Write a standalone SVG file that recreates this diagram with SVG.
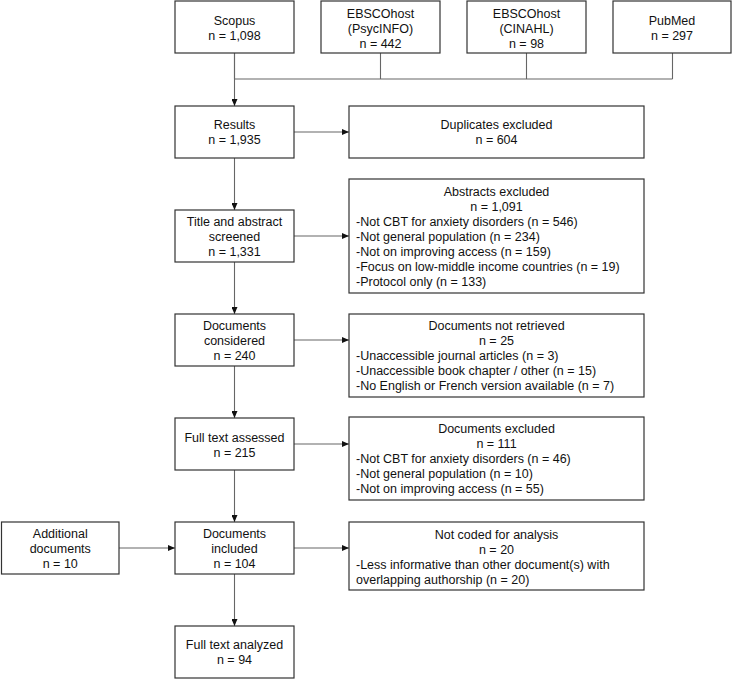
<svg xmlns="http://www.w3.org/2000/svg" width="733" height="680" viewBox="0 0 733 680">
<style>
.box{fill:#fff;stroke:#333;stroke-width:1.2}
text{font-family:"Liberation Sans",Arial,sans-serif;font-size:12.5px;fill:#111}
.c{text-anchor:middle}
.l{text-anchor:start}
.ln{fill:none;stroke:#666;stroke-width:1.1}
</style>
<defs>
<marker id="ah" markerWidth="7" markerHeight="6" refX="7" refY="3" orient="auto" markerUnits="userSpaceOnUse">
<path d="M0,0 L7,3 L0,6 Z" fill="#111"/>
</marker>
</defs>
<rect width="733" height="680" fill="#fff"/>
<g id="connectors">
<path class="ln" d="M234.5,53 V79 M380.5,53 V79 M526.5,53 V79 M672.5,53 V79 M234.5,79 H672.5"/>
<path class="ln" d="M234.5,53 V106" marker-end="url(#ah)"/>
<path class="ln" d="M234.5,158 V210" marker-end="url(#ah)"/>
<path class="ln" d="M234.5,262 V314" marker-end="url(#ah)"/>
<path class="ln" d="M234.5,366 V418" marker-end="url(#ah)"/>
<path class="ln" d="M234.5,470 V522" marker-end="url(#ah)"/>
<path class="ln" d="M234.5,574 V626" marker-end="url(#ah)"/>
<path class="ln" d="M294,132 H349" marker-end="url(#ah)"/>
<path class="ln" d="M294,236 H349" marker-end="url(#ah)"/>
<path class="ln" d="M294,340 H349" marker-end="url(#ah)"/>
<path class="ln" d="M294,444 H349" marker-end="url(#ah)"/>
<path class="ln" d="M294,548 H349" marker-end="url(#ah)"/>
<path class="ln" d="M119,548 H175" marker-end="url(#ah)"/>
</g>
<g id="scopus">
<rect class="box" x="175" y="1" width="119" height="52"/>
<text class="c" x="234.5" y="24.5">Scopus</text>
<text class="c" x="234.5" y="39.5">n = 1,098</text>
</g>
<g id="psycinfo">
<rect class="box" x="321" y="1" width="119" height="52"/>
<text class="c" x="380.5" y="17.5">EBSCOhost</text>
<text class="c" x="380.5" y="32.5">(PsycINFO)</text>
<text class="c" x="380.5" y="47.5">n = 442</text>
</g>
<g id="cinahl">
<rect class="box" x="467" y="1" width="119" height="52"/>
<text class="c" x="526.5" y="17.5">EBSCOhost</text>
<text class="c" x="526.5" y="32.5">(CINAHL)</text>
<text class="c" x="526.5" y="47.5">n = 98</text>
</g>
<g id="pubmed">
<rect class="box" x="613" y="1" width="118" height="52"/>
<text class="c" x="672" y="24.5">PubMed</text>
<text class="c" x="672" y="39.5">n = 297</text>
</g>
<g id="results">
<rect class="box" x="175" y="106" width="119" height="52"/>
<text class="c" x="234.5" y="129">Results</text>
<text class="c" x="234.5" y="144">n = 1,935</text>
</g>
<g id="duplicates">
<rect class="box" x="349" y="106" width="295" height="52"/>
<text class="c" x="496.5" y="129">Duplicates excluded</text>
<text class="c" x="496.5" y="144">n = 604</text>
</g>
<g id="screened">
<rect class="box" x="175" y="210" width="119" height="52"/>
<text class="c" x="234.5" y="225.5">Title and abstract</text>
<text class="c" x="234.5" y="240.5">screened</text>
<text class="c" x="234.5" y="255.5">n = 1,331</text>
</g>
<g id="abstracts-excluded">
<rect class="box" x="349" y="179" width="295" height="114"/>
<text class="c" x="496.5" y="196">Abstracts excluded</text>
<text class="c" x="496.5" y="211">n = 1,091</text>
<text class="l" x="356" y="226">-Not CBT for anxiety disorders (n = 546)</text>
<text class="l" x="356" y="241">-Not general population (n = 234)</text>
<text class="l" x="356" y="256">-Not on improving access (n = 159)</text>
<text class="l" x="356" y="271">-Focus on low-middle income countries (n = 19)</text>
<text class="l" x="356" y="286">-Protocol only (n = 133)</text>
</g>
<g id="considered">
<rect class="box" x="175" y="314" width="119" height="52"/>
<text class="c" x="234.5" y="329.5">Documents</text>
<text class="c" x="234.5" y="344.5">considered</text>
<text class="c" x="234.5" y="359.5">n = 240</text>
</g>
<g id="not-retrieved">
<rect class="box" x="349" y="314" width="295" height="83"/>
<text class="c" x="496.5" y="329.5">Documents not retrieved</text>
<text class="c" x="496.5" y="344.5">n = 25</text>
<text class="l" x="356" y="359.5">-Unaccessible journal articles (n = 3)</text>
<text class="l" x="356" y="374.5">-Unaccessible book chapter / other (n = 15)</text>
<text class="l" x="356" y="389.5">-No English or French version available (n = 7)</text>
</g>
<g id="full-text-assessed">
<rect class="box" x="175" y="418" width="119" height="52"/>
<text class="c" x="234.5" y="441.5">Full text assessed</text>
<text class="c" x="234.5" y="456.5">n = 215</text>
</g>
<g id="documents-excluded">
<rect class="box" x="349" y="417" width="295" height="83"/>
<text class="c" x="496.5" y="433">Documents excluded</text>
<text class="c" x="496.5" y="448">n = 111</text>
<text class="l" x="356" y="463">-Not CBT for anxiety disorders (n = 46)</text>
<text class="l" x="356" y="478">-Not general population (n = 10)</text>
<text class="l" x="356" y="493">-Not on improving access (n = 55)</text>
</g>
<g id="additional">
<rect class="box" x="1.5" y="522" width="117.5" height="52"/>
<text class="c" x="60.25" y="537.5">Additional</text>
<text class="c" x="60.25" y="552.5">documents</text>
<text class="c" x="60.25" y="567.5">n = 10</text>
</g>
<g id="included">
<rect class="box" x="175" y="522" width="119" height="52"/>
<text class="c" x="234.5" y="537.5">Documents</text>
<text class="c" x="234.5" y="552.5">included</text>
<text class="c" x="234.5" y="567.5">n = 104</text>
</g>
<g id="not-coded">
<rect class="box" x="349" y="522" width="295" height="68"/>
<text class="c" x="496.5" y="538.5">Not coded for analysis</text>
<text class="c" x="496.5" y="553.5">n = 20</text>
<text class="l" x="356" y="568.5">-Less informative than other document(s) with</text>
<text class="l" x="356" y="583.5">overlapping authorship (n = 20)</text>
</g>
<g id="analyzed">
<rect class="box" x="175" y="626" width="119" height="52"/>
<text class="c" x="234.5" y="649">Full text analyzed</text>
<text class="c" x="234.5" y="664">n = 94</text>
</g>
</svg>
